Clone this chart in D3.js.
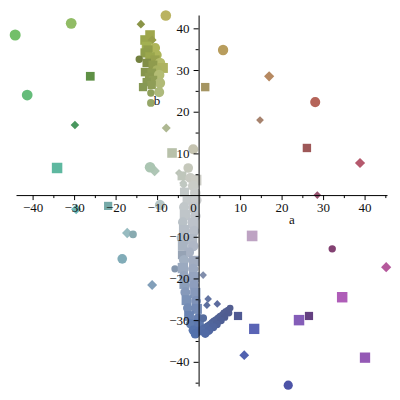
<!DOCTYPE html>
<html>
<head>
<meta charset="utf-8">
<script src="https://cdn.jsdelivr.net/npm/d3@7"></script>
<style>
  html, body { margin: 0; padding: 0; background: #fff; }
  svg { display: block; }
  .axis text, .lbl { font-family: "Liberation Serif", "Times New Roman", serif; font-size: 13px; fill: #111; }
  .axis path, .axis line { stroke: #000; stroke-width: 1; }
</style>
</head>
<body>
<script>
// points: [a, b, c, group]  (c = third variable, drives shade and size)
const outerPoints = [
  [-44.2, 38.4, 1.0, "A"], [-30.7, 41.2, 0.95, "A"], [-41.3, 24.0, 0.95, "A"],
  [-26.1, 28.5, 0.35, "B"], [-29.8, 16.8, 0.4, "C"], [-34.1, 6.5, 0.85, "B"],
  [-29.5, -3.4, 0.8, "C"], [-21.8, -2.6, 0.2, "B"], [-17.2, -9.1, 0.85, "C"],
  [-15.8, -9.4, 0.25, "A"], [-18.4, -15.3, 0.7, "A"], [-11.2, -21.6, 0.75, "C"],
  [-5.7, -17.7, 0.15, "A"], [-10.6, 5.8, 0.9, "C"], [-11.7, 6.7, 0.9, "A"],
  [-7.8, 16.1, 0.5, "C"], [-6.4, 10.1, 0.6, "B"], [-1.3, 11.0, 0.8, "A"],
  [-4.7, 5.3, 0.3, "C"], [-3.7, 2.9, 0.3, "C"], [-9.3, -2.4, 0.85, "A"],
  [5.9, 34.8, 0.85, "A"], [1.6, 25.9, 0.25, "B"], [17.0, 28.5, 0.8, "C"],
  [28.1, 22.3, 0.8, "A"], [14.8, 18.0, 0.2, "C"], [26.1, 11.3, 0.25, "B"],
  [38.9, 7.7, 0.8, "C"], [28.6, 0.0, 0.15, "C"], [12.9, -9.8, 0.9, "B"],
  [32.2, -12.9, 0.2, "A"], [45.2, -17.3, 0.8, "C"], [34.6, -24.5, 0.85, "B"],
  [24.2, -30.0, 0.85, "B"], [26.6, -29.0, 0.2, "B"], [40.1, -39.0, 0.8, "B"],
  [13.4, -32.1, 0.8, "B"], [9.5, -29.0, 0.2, "B"], [11.0, -38.4, 0.7, "C"],
  [21.6, -45.6, 0.6, "A"], [1.1, -19.2, 0.15, "C"], [2.3, -24.9, 0.15, "C"],
  [4.5, -26.1, 0.15, "C"], [2.0, -26.4, 0.15, "C"]
];

const topCluster = [
  [-7.9, 43.1, 0.9, "A"], [-13.9, 41.0, 0.4, "C"], [-12.9, 37.2, 0.6, "B"],
  [-11.7, 38.4, 0.6, "B"], [-11.2, 37.2, 0.5, "C"], [-12.5, 35.6, 0.7, "B"],
  [-10.5, 35.3, 0.8, "A"], [-12.2, 34.8, 0.5, "B"], [-12.9, 34.1, 0.5, "B"],
  [-14.3, 32.6, 0.2, "A"], [-10.1, 33.6, 0.8, "A"], [-11.7, 33.1, 0.6, "B"],
  [-10.5, 32.4, 0.5, "B"], [-9.3, 31.7, 0.9, "A"], [-12.5, 31.7, 0.3, "B"],
  [-11.0, 31.2, 0.4, "B"], [-8.6, 30.5, 0.7, "B"], [-10.0, 30.0, 0.7, "A"],
  [-12.9, 29.5, 0.3, "B"], [-11.3, 29.3, 0.35, "B"], [-9.5, 28.8, 0.9, "A"],
  [-11.9, 28.3, 0.3, "B"], [-11.0, 27.6, 0.3, "B"], [-9.3, 26.9, 0.85, "A"],
  [-12.5, 27.1, 0.25, "B"], [-11.3, 26.4, 0.25, "B"], [-13.4, 25.9, 0.2, "B"],
  [-9.5, 24.7, 0.8, "A"], [-11.5, 24.5, 0.2, "A"], [-11.5, 22.1, 0.25, "A"]
];

const stemPoints = [
  [-2.5, 6.5, 0.7, "A"], [-4.0, 4.6, 0.4, "B"], [-2.0, 4.1, 0.8, "A"],
  [-0.6, 3.6, 0.9, "B"], [-3.6, 2.4, 0.35, "C"], [-1.3, 2.2, 0.9, "A"],
  [-3.4, 0.7, 0.45, "B"], [-0.8, 0.5, 0.9, "A"], [-2.7, -1.2, 0.6, "B"],
  [-0.6, -1.2, 1.0, "A"], [-3.5, -2.9, 0.8, "A"], [-1.1, -3.1, 0.9, "B"],
  [-3.3, -4.8, 0.8, "B"], [-0.8, -5.0, 0.9, "A"], [-3.8, -6.5, 0.7, "A"],
  [-1.3, -6.7, 0.9, "B"], [-3.5, -8.4, 0.8, "B"], [-1.1, -8.6, 0.9, "A"],
  [-4.0, -10.3, 0.9, "A"], [-1.6, -10.6, 0.85, "B"], [-3.8, -12.2, 0.7, "B"],
  [-1.3, -12.2, 0.9, "A"], [-2.3, -13.7, 0.8, "A"], [-4.0, -14.4, 0.2, "B"],
  [-3.5, -15.6, 0.85, "A"], [-1.1, -15.8, 0.8, "B"], [-3.8, -17.5, 0.8, "B"],
  [-1.3, -17.7, 0.85, "A"], [-3.5, -19.4, 0.8, "A"], [-1.1, -19.7, 0.8, "B"],
  [-3.4, -21.3, 0.75, "B"], [-1.1, -21.6, 0.8, "A"], [-3.2, -23.3, 0.75, "A"],
  [-0.8, -23.5, 0.8, "B"], [-2.9, -25.2, 0.7, "B"], [-0.6, -25.4, 0.75, "A"],
  [-2.6, -27.1, 0.7, "A"], [-0.4, -27.3, 0.7, "B"], [-2.3, -29.0, 0.65, "B"],
  [-0.1, -29.5, 0.65, "A"], [-1.9, -30.9, 0.65, "A"], [0.1, -30.9, 0.6, "B"],
  [-1.3, -32.4, 0.6, "A"], [0.1, -32.6, 0.6, "A"], [-0.8, -33.3, 0.6, "A"]
];

const tailPoints = [
  [1.1, -29.5, 0.3, "A"],
  [7.6, -27.1, 0.05, "A"], [7.1, -27.6, 0.05, "A"], [6.6, -27.9, 0.08, "A"],
  [6.1, -28.3, 0.1, "A"], [5.7, -28.8, 0.12, "A"], [5.2, -29.1, 0.15, "A"],
  [4.7, -29.5, 0.18, "A"], [4.2, -30.0, 0.21, "A"], [3.7, -30.3, 0.25, "A"],
  [3.3, -30.7, 0.29, "A"], [2.8, -31.1, 0.33, "A"], [2.3, -31.5, 0.37, "A"],
  [1.8, -31.8, 0.41, "A"], [1.3, -32.1, 0.45, "A"], [0.8, -32.5, 0.5, "A"],
  [7.3, -28.3, 0.1, "A"], [6.3, -29.3, 0.15, "A"], [5.4, -30.1, 0.22, "A"],
  [4.4, -31.0, 0.3, "A"], [3.5, -31.7, 0.38, "A"], [2.5, -32.5, 0.45, "A"],
  [1.6, -33.2, 0.52, "A"]
];

const xTicksMajor = [-40, -30, -20, -10, 10, 20, 30, 40];
const xTicksMinor = [-35, -25, -15, -5, 5, 15, 25, 35, 45];
const yTicksMajor = [-40, -30, -20, -10, 10, 20, 30, 40];
const yTicksMinor = [-45, -35, -25, -15, -5, 5, 15, 25, 35];
const xLabel = "a";
const yLabel = "b";

class Chart {
  constructor(points) {
    this.points = points;
    this.draw();
  }

  draw() {
    this.width = 400;
    this.height = 400;
    this.svg = d3.select("body").append("svg")
      .attr("width", this.width)
      .attr("height", this.height);

    this.createScales();
    this.addPoints();
    this.addAxes();
  }

  createScales() {
    this.xScale = d3.scaleLinear().domain([-44, 45.4]).range([16, 387]);
    this.yScale = d3.scaleLinear().domain([-45.8, 43.2]).range([386, 15]);

    // direction of a point (degrees) -> hue
    this.hueScale = d3.scaleLinear()
      .domain([0, 23, 40, 50, 80, 100, 110, 120, 135, 150, 170, 190, 215, 245, 270, 295, 310, 325, 340, 360])
      .range([-25, 0, 8, 22, 42, 55, 70, 78, 105, 135, 165, 182, 190, 210, 220, 235, 268, 295, 318, 335]);

    this.shapeScale = d3.scaleOrdinal()
      .domain(["A", "B", "C"])
      .range(["circle", "square", "diamond"]);
  }

  colour(a, b, c) {
    const r = Math.hypot(a, b);
    let ang = Math.atan2(b, a) * 180 / Math.PI;
    if (ang < 0) ang += 360;
    const t = Math.min(1, r / 35);
    const h = (this.hueScale(ang) + 360) % 360;
    const s = (0.32 + 0.08 * c) * Math.pow(t, 0.8);
    const base = 0.33 + 0.25 * c;
    const l = 0.8 - (0.8 - base) * Math.pow(t, 1.2);
    return d3.hsl(h, s, l).toString();
  }

  symbolPath(d) {
    const shape = this.shapeScale(d[3]);
    const c = d[2];
    if (shape === "circle") {
      const r = (6.5 + 4.5 * c) / 2;
      return d3.symbol(d3.symbolCircle, Math.PI * r * r)();
    }
    if (shape === "square") {
      const side = 7.5 + 3.5 * c;
      return d3.symbol(d3.symbolSquare, side * side)();
    }
    const diag = 7 + 4 * c;
    const side = diag / Math.SQRT2;
    return d3.symbol(d3.symbolSquare, side * side)();
  }

  addPoints() {
    this.svg.append("g")
      .selectAll("path")
      .data(this.points)
      .join("path")
      .attr("d", d => this.symbolPath(d))
      .attr("transform", d => {
        const rot = this.shapeScale(d[3]) === "diamond" ? " rotate(45)" : "";
        return `translate(${this.xScale(d[0])},${this.yScale(d[1])})${rot}`;
      })
      .attr("fill", d => this.colour(d[0], d[1], d[2]));
  }

  addAxes() {
    const x0 = this.xScale(0);
    const y0 = this.yScale(0);
    const fmt = d3.format("d");

    // horizontal axis through b = 0
    const xg = this.svg.append("g").attr("class", "axis")
      .attr("transform", `translate(0,${y0})`);
    xg.call(d3.axisBottom(this.xScale).tickValues(xTicksMajor)
      .tickSize(5).tickSizeOuter(0).tickPadding(3).tickFormat(fmt));
    xg.append("g").call(d3.axisBottom(this.xScale).tickValues(xTicksMinor)
      .tickSize(3).tickSizeOuter(0).tickFormat(""))
      .select(".domain").remove();

    // vertical axis through a = 0
    const yg = this.svg.append("g").attr("class", "axis")
      .attr("transform", `translate(${x0},0)`);
    yg.call(d3.axisLeft(this.yScale).tickValues(yTicksMajor)
      .tickSize(5).tickSizeOuter(0).tickPadding(4).tickFormat(fmt));
    yg.append("g").call(d3.axisLeft(this.yScale).tickValues(yTicksMinor)
      .tickSize(3).tickSizeOuter(0).tickFormat(""))
      .select(".domain").remove();

    this.svg.selectAll(".axis text").attr("fill", "#111");

    // origin label
    this.svg.append("text").attr("class", "lbl")
      .attr("x", x0 - 5).attr("y", y0 + 17)
      .attr("text-anchor", "middle").text("0");

    this.svg.append("text").attr("class", "lbl")
      .attr("x", this.xScale(22.5)).attr("y", this.yScale(-7))
      .attr("text-anchor", "middle").text(xLabel);

    this.svg.append("text").attr("class", "lbl")
      .attr("x", this.xScale(-10)).attr("y", this.yScale(21.5))
      .attr("text-anchor", "middle").text(yLabel);
  }
}

const allPoints = [...outerPoints, ...topCluster, ...stemPoints, ...tailPoints];
new Chart(allPoints);
</script>
</body>
</html>
